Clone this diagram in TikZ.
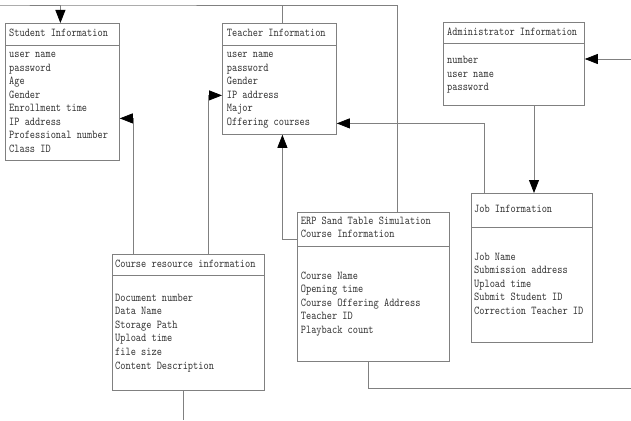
\documentclass[tikz,border=0pt]{standalone}
\usepackage{fontspec}
\newfontfamily\boxfont{lmmono10-regular.otf}[FakeStretch=0.825]
\usetikzlibrary{arrows.meta}
\tikzset{
  x=1pt, y=-1pt,
  line/.style={draw=black!50, line width=0.8pt},
  box/.style={draw=black!50, line width=0.8pt, rectangle, anchor=north west, inner sep=0pt},
  txt/.style={anchor=west, inner sep=0pt, text height=7pt, text depth=2pt,
              font=\boxfont\fontsize{12}{14}\selectfont, text=black!80},
  tip/.style={-{Triangle[length=13pt,width=10pt,color=black]}}
}
\newcommand{\boxitems}[5]{%
  \foreach \t [count=\i] in {#5} {\node[txt] (#1-\i) at (#2, #3+#4*\i-#4) {\t};}}
\begin{document}
\begin{tikzpicture}
\useasboundingbox (0,0) rectangle (631,420);
\coordinate (topline) at (0,5);

% boxes
\node[box, minimum width=114pt, minimum height=137pt] (stu) at (5,23) {};
\node[box, minimum width=114pt, minimum height=111pt] (tea) at (222,23) {};
\node[box, minimum width=141pt, minimum height=83pt] (adm) at (443,22) {};
\node[box, minimum width=121pt, minimum height=149pt] (job) at (471,193) {};
\node[box, minimum width=152pt, minimum height=149pt] (erp) at (297,212) {};
\node[box, minimum width=152pt, minimum height=136pt] (res) at (112,254) {};

% header separators
\draw[line] ([yshift=-22pt]stu.north west) -- ([yshift=-22pt]stu.north east);
\draw[line] ([yshift=-22pt]tea.north west) -- ([yshift=-22pt]tea.north east);
\draw[line] ([yshift=-21pt]adm.north west) -- ([yshift=-21pt]adm.north east);
\draw[line] ([yshift=-34pt]job.north west) -- ([yshift=-34pt]job.north east);
\draw[line] ([yshift=-34pt]erp.north west) -- ([yshift=-34pt]erp.north east);
\draw[line] ([yshift=-21pt]res.north west) -- ([yshift=-21pt]res.north east);

% titles
\node[txt] (stu-t) at (9,34.3) {Student Information};
\node[txt] (tea-t) at (226.7,34.3) {Teacher Information};
\node[txt] (adm-t) at (447,33) {Administrator Information};
\node[txt] (job-t) at (474,210) {Job Information};
\node[txt] (erp-t1) at (300.7,221.7) {ERP Sand Table Simulation};
\node[txt] (erp-t2) at (300.7,235.3) {Course Information};
\node[txt] (res-t) at (115,265) {Course resource information};

% items
\boxitems{stu}{9}{55}{13.5}{user name,password,Age,Gender,Enrollment time,IP address,Professional number,Class ID}
\boxitems{tea}{226.7}{55}{13.5}{user name,password,Gender,IP address,Major,Offering courses}
\boxitems{adm}{447}{61}{13.6}{number,user name,password}
\boxitems{job}{474}{257.7}{13.5}{Job Name,Submission address,Upload time,Submit Student ID,Correction Teacher ID}
\boxitems{erp}{300.7}{276.6}{13.6}{Course Name,Opening time,Course Offering Address,Teacher ID,Playback count}
\boxitems{res}{115}{298.6}{13.6}{Document number,Data Name,Storage Path,Upload time,file size,Content Description}

% connectors
\coordinate (rightA) at (631,59);
\coordinate (rightB) at (631,388);
\coordinate (bottomC) at (183,420);

\draw[line, tip] ([xshift=100pt]erp.north west) |- (topline) -| ([xshift=-2pt]stu.north);
\draw[line] ([xshift=3pt]tea.north) -- ([xshift=3pt]tea.north |- topline);
\draw[line, tip] ([xshift=21pt]res.north west) |- ([yshift=-26.5pt]stu.east);
\draw[line, tip] ([xshift=96pt]res.north west) |- ([yshift=-16.5pt]tea.east -| tea.west);
\draw[line, tip] ([yshift=-27pt]erp.north west) -| ([xshift=3pt]tea.south);
\draw[line, tip] ([xshift=13pt]job.north west) |- ([yshift=-44.5pt]tea.east);
\draw[line, tip] ([xshift=91pt]adm.south west) -- ([xshift=63pt]job.north west);
\draw[line, tip] (rightA) -- (rightA -| adm.east);
\draw[line] ([xshift=71pt]erp.south west) |- (rightB);
\draw[line] ([xshift=71pt]res.south west) -- (bottomC);
\end{tikzpicture}
\end{document}
